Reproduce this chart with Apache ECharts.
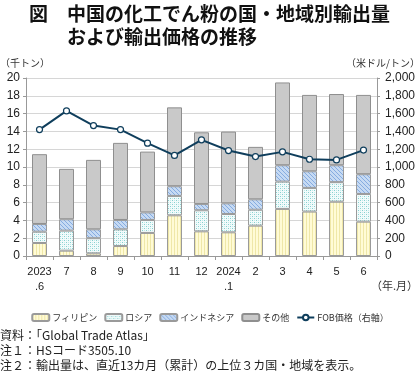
<!DOCTYPE html>
<html><head><meta charset="utf-8">
<script src="https://cdn.jsdelivr.net/npm/echarts@6/dist/echarts.min.js"></script>
<style>html,body{margin:0;padding:0;background:#fff}#c{width:420px;height:375px}</style>
</head><body><div id="c"></div>
<script>
const categories = ['2023\n.6','7','8','9','10','11','12','2024\n.1','2','3','4','5','6'];
const philippines = [1.46,0.6,0.3,1.12,2.59,4.57,2.77,2.66,3.41,5.29,4.99,6.1,3.86];
const russia      = [1.27,2.25,1.7,1.88,1.46,2.18,2.37,2.06,1.79,3.07,2.66,2.2,3.11];
const indonesia   = [0.87,1.28,1.0,1.05,0.85,1.09,0.71,1.2,1.17,1.84,1.87,1.9,2.22];
const others      = [7.84,5.66,7.8,8.66,6.83,8.86,8.05,8.06,5.89,9.3,8.58,8.0,8.91];
const fobPrice    = [1420,1630,1466,1420,1268,1130,1305,1185,1117,1170,1087,1080,1190];
const leftTicks = [0,2,4,6,8,10,12,14,16,18,20];
const rightTicks = [0,200,400,600,800,1000,1200,1400,1600,1800,2000];

const FONT = '"Noto Sans CJK JP","Noto Sans",sans-serif';
function pattern(w,h,bg,draw){
  const c=document.createElement('canvas');c.width=w;c.height=h;
  const x=c.getContext('2d');x.fillStyle=bg;x.fillRect(0,0,w,h);draw(x);
  return {image:c,repeat:'repeat'};
}
const phPat = pattern(3,3,'#fffbd6',x=>{x.fillStyle='#efe7a8';x.fillRect(0,0,1,3);});
const ruPat = pattern(4,4,'#f2fbfb',x=>{x.fillStyle='#86d0d0';x.fillRect(0,0,1,1);x.fillRect(2,2,1,1);x.fillStyle='#c4eaea';x.fillRect(2,0,1,1);x.fillRect(0,2,1,1);});
const idPat = pattern(4,4,'#c6daf3',x=>{x.fillStyle='#86ace0';x.fillRect(0,0,1,1);x.fillRect(2,2,1,1);x.fillRect(1,1,1,1);x.fillRect(3,3,1,1);});

const chart = echarts.init(document.getElementById('c'),null,{renderer:'canvas'});
const barBase = {type:'bar',stack:'t',barWidth:15,yAxisIndex:0};
const border = {borderColor:'#9a9a9a',borderWidth:1};
chart.setOption({
  animation:false,
  textStyle:{fontFamily:FONT},
  graphic:[
    {type:'text',left:29,top:4,style:{text:'図',font:'bold 19px '+FONT,fill:'#111'}},
    {type:'text',left:67,top:4,style:{text:'中国の化工でん粉の国・地域別輸出量',font:'bold 19px '+FONT,fill:'#111'}},
    {type:'text',left:67,top:27,style:{text:'および輸出価格の推移',font:'bold 19px '+FONT,fill:'#111'}},
    {type:'text',left:0,top:58,style:{text:'（千トン）',font:'10px '+FONT,fill:'#333'}},
    {type:'text',right:0,top:58,style:{text:'（米ドル/トン）',font:'10px '+FONT,fill:'#333'}},
    {type:'text',right:2,top:280,style:{text:'（年.月）',font:'11px '+FONT,fill:'#333'}},
    {type:'text',left:0,top:329,style:{text:'資料：「Global Trade Atlas」',font:'12px '+FONT,fill:'#222'}},
    {type:'text',left:0,top:344,style:{text:'注１：HSコード3505.10',font:'12px '+FONT,fill:'#222'}},
    {type:'text',left:0,top:359,style:{text:'注２：輸出量は、直近13カ月（累計）の上位３カ国・地域を表示。',font:'12px '+FONT,fill:'#222'}}
  ],
  legend:{top:308,left:'center',itemWidth:17,itemHeight:7,itemGap:7,
    textStyle:{fontSize:9,fontFamily:FONT,color:'#333',padding:[0,0,0,-2]},
    data:[{name:'フィリピン'},{name:'ロシア'},{name:'インドネシア'},{name:'その他'},{name:'FOB価格（右軸）'}]},
  grid:{left:26,right:43,top:78,bottom:119},
  xAxis:{type:'category',data:categories,
    axisLine:{lineStyle:{color:'#999'}},
    axisTick:{show:true,alignWithLabel:false,inside:false,length:4,lineStyle:{color:'#999'}},
    axisLabel:{color:'#222',fontSize:11,lineHeight:15,margin:8,interval:0,fontFamily:'"Liberation Sans",Arial,sans-serif'}},
  yAxis:[
    {type:'value',min:0,max:20,interval:2,
      axisLine:{show:true,lineStyle:{color:'#999'}},axisTick:{show:true,length:3,lineStyle:{color:'#999'}},
      splitLine:{lineStyle:{color:'#d6d6d6'}},
      axisLabel:{color:'#222',fontSize:12,margin:6,fontFamily:'"Liberation Sans",Arial,sans-serif'}},
    {type:'value',min:0,max:2000,interval:200,position:'right',
      axisLine:{show:true,lineStyle:{color:'#999'}},axisTick:{show:true,length:3,lineStyle:{color:'#999'}},
      splitLine:{show:false},
      axisLabel:{color:'#222',fontSize:12,margin:8,fontFamily:'"Liberation Sans",Arial,sans-serif',
        formatter:v=>v.toLocaleString('en-US')}}
  ],
  series:[
    Object.assign({},barBase,{name:'フィリピン',data:philippines,itemStyle:Object.assign({color:phPat},border)}),
    Object.assign({},barBase,{name:'ロシア',data:russia,itemStyle:Object.assign({color:ruPat},border)}),
    Object.assign({},barBase,{name:'インドネシア',data:indonesia,itemStyle:Object.assign({color:idPat},border)}),
    Object.assign({},barBase,{name:'その他',data:others,itemStyle:{color:'#c9c9c9',borderColor:'#8f8f8f',borderWidth:1}}),
    {name:'FOB価格（右軸）',type:'line',yAxisIndex:1,data:fobPrice,symbol:'circle',symbolSize:6,
      lineStyle:{color:'#0f3e5c',width:2},itemStyle:{color:'#fff',borderColor:'#0f3e5c',borderWidth:1.2}}
  ]
});
</script></body></html>
